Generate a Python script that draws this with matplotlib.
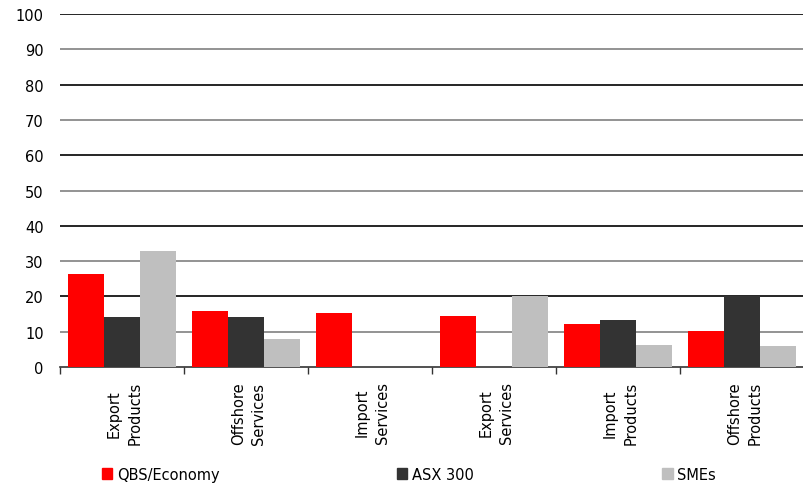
import matplotlib
matplotlib.use("Agg")
import matplotlib.pyplot as plt
from matplotlib.patches import Patch
import numpy as np

categories = ["Export\nProducts", "Offshore\nServices", "Import\nServices",
              "Export\nServices", "Import\nProducts", "Offshore\nProducts"]
qbs = [26.3, 15.9, 15.3, 14.4, 12.2, 10.3]
asx = [14.2, 14.2, 0, 0, 13.3, 20.1]
smes = [32.9, 7.9, 0, 20.1, 6.2, 5.9]
series_names = ["QBS/Economy", "ASX 300", "SMEs"]
colors = ["#ff0000", "#333333", "#bfbfbf"]

plt.rcParams['font.family'] = ['DejaVu Sans']

fig = plt.figure(figsize=(8.04, 4.85), dpi=100)
ax = fig.add_axes([0.075, 0.241, 0.925, 0.728])

x = np.arange(len(categories))
w = 0.29
for i, (vals, name, c) in enumerate(zip([qbs, asx, smes], series_names, colors)):
    ax.bar(x + (i - 1) * w, vals, w, color=c, label=name, zorder=3)

ax.set_xlim(-0.5, len(categories) - 0.5)
ax.set_ylim(0, 100)
ax.set_yticks(range(0, 101, 10))
for v in range(10, 101, 10):
    ax.axhline(v, color="#000000" if v % 20 == 0 else "#808080", lw=1.2, zorder=1)

for s in ["top", "right", "left"]:
    ax.spines[s].set_visible(False)
ax.spines["bottom"].set_color("#333333")
ax.spines["bottom"].set_linewidth(1.2)

ax.tick_params(axis="y", length=0, labelsize=10.5, pad=12)
ax.set_xticks(np.arange(len(categories) + 1) - 0.5)
ax.set_xticklabels([])
ax.tick_params(axis="x", length=5, color="#333333", width=1)
for xi, lab in zip(x, categories):
    ax.text(xi + 0.02, -4.0, lab, rotation=90, ha="center", va="top",
            multialignment="center", linespacing=1.45, fontsize=10.5,
            transform=ax.transData)

# one legend entry per position, spread along the bottom
legend_x = [0.127, 0.494, 0.824]
for name, c, lx in zip(series_names, colors, legend_x):
    fig.legend(handles=[Patch(color=c, label=name)], loc="center left",
               bbox_to_anchor=(lx, 0.02), frameon=False, fontsize=10.5,
               handlelength=0.7, handleheight=0.8, handletextpad=0.3,
               borderpad=0, borderaxespad=0)

fig.savefig("out.png", dpi=100)
